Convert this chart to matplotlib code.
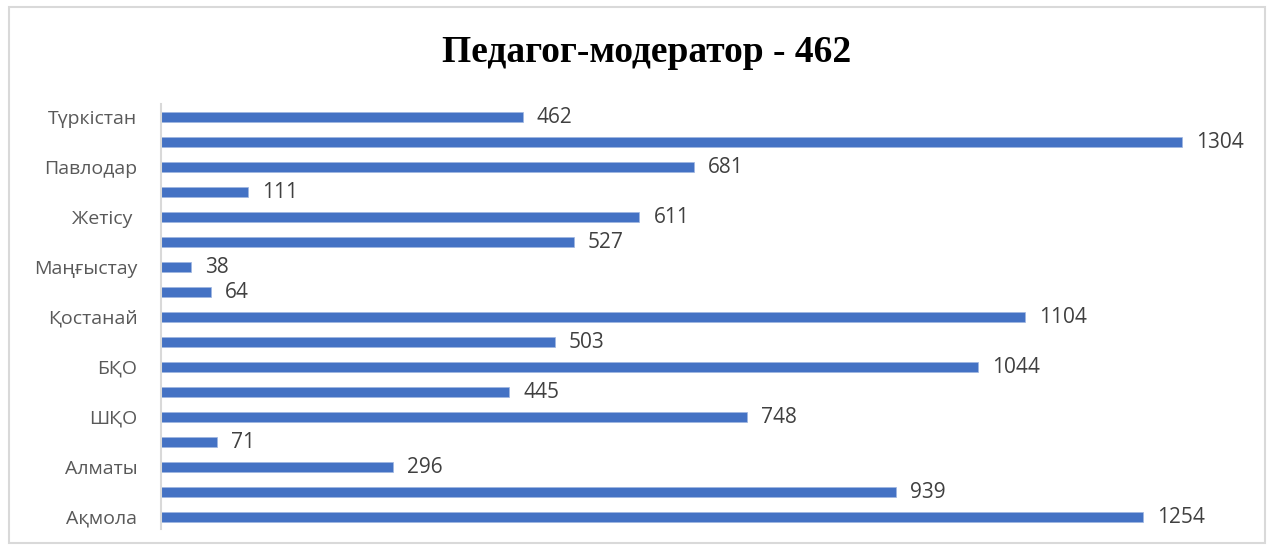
import matplotlib.pyplot as plt
from matplotlib.patches import Rectangle
import numpy as np

# regions bottom -> top (Excel shows every second label)
regions = ['Ақмола', 'Ақтөбе', 'Алматы', 'Атырау', 'ШҚО', 'Жамбыл', 'БҚО',
           'Қарағанды', 'Қостанай', 'Қызылорда', 'Маңғыстау', 'Ұлытау',
           'Жетісу ', 'Абай', 'Павлодар', 'СҚО', 'Түркістан']
values = [1254, 939, 296, 71, 748, 445, 1044, 503, 1104, 64, 38, 527,
          611, 111, 681, 1304, 462]
title = 'Педагог-модератор - 462'

plt.rcParams['font.family'] = ['Open Sans', 'DejaVu Sans']

fig = plt.figure(figsize=(12.74, 5.51), dpi=100)
ax = fig.add_axes([161/1274, 22/551, 1096/1274, 425/551])

y = np.arange(len(values))
ax.barh(y, values, height=0.4, color='#4472C4', edgecolor='#9fb6e0', linewidth=0.5)
for yi, v in zip(y, values):
    ax.text(v + 18, yi - 0.05, str(v), va='center', ha='left', fontsize=15, color='#404040')

ax.set_xlim(0, 1400)
ax.set_ylim(-0.5, len(values) - 0.5)
ax.set_yticks(y[::2])
ax.set_yticklabels(regions[::2], fontsize=14, color='#595959')
ax.tick_params(axis='y', length=0, pad=17)
ax.set_xticks([])
for s in ['top', 'right', 'bottom']:
    ax.spines[s].set_visible(False)
ax.spines['left'].set_color('#d9d9d9')
ax.spines['left'].set_linewidth(1.5)

fig.text(647/1274, 1 - 52/551, title, ha='center', va='center',
         fontsize=27, fontweight='bold', family='Liberation Serif')

fig.patches.append(Rectangle((9/1274, 8/551), 1256/1274, 536/551, transform=fig.transFigure,
                             fill=False, edgecolor='#d9d9d9', linewidth=1.5))

fig.savefig('out.png', dpi=100)
